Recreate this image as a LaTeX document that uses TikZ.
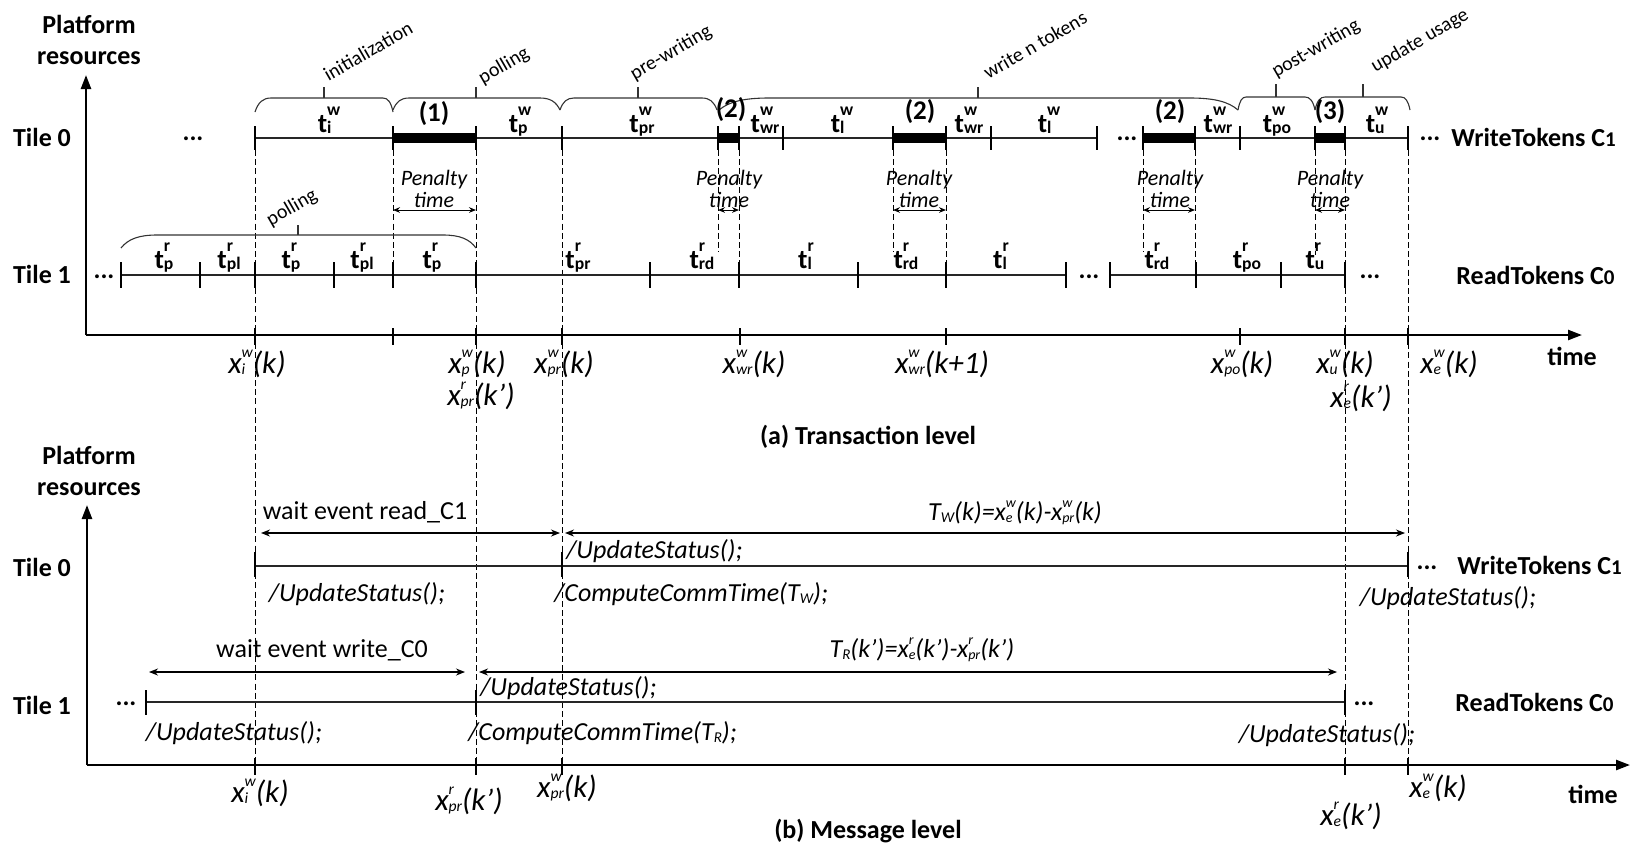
\documentclass[tikz,border=0pt]{standalone}
\usepackage{fontspec}
\setmainfont{Carlito}
\usetikzlibrary{arrows.meta}
\newsavebox\supbx
\newsavebox\subbx
\newcommand\ssc[4]{{#1\sbox\supbx{#3}\sbox\subbx{#4}%
\makebox[0pt][l]{\raisebox{#2}{\usebox\supbx}}%
\raisebox{-0.8pt}{\usebox\subbx}%
\ifdim\wd\supbx>\wd\subbx\hspace*{\dimexpr\wd\supbx-\wd\subbx\relax}\fi}}
\newcommand\tv[2]{\textbf{t}\ssc{\fontsize{8.8}{9}\selectfont\bfseries}{8.3pt}{#1}{#2}}
\newcommand\xv[3]{\textit{x}\ssc{\fontsize{7.8}{8}\selectfont\itshape}{7.8pt}{#1}{#2}\textit{(#3)}}
\newcommand\fx[3]{\textit{x}\ssc{\fontsize{7}{8}\selectfont\itshape}{6.5pt}{#1}{#2}\textit{(#3)}}
\newcommand\sdig[1]{{\fontsize{10.5}{12}\selectfont #1}}
\newcommand\mybrace[8]{%
\draw[brc] (#1,#4) .. controls ({#1+0.2*#6},{#5+0.3*(#4-#5)}) and ({#1+0.5*#6},#5) .. ({#1+#6},#5) -- ({#2-#7},#5) .. controls ({#2-0.5*#7},#5) and ({#2-0.2*#7},{#5+0.3*(#4-#5)}) .. (#2,#4);
\draw[brc] (#3,#5) -- (#3,#8);}
\begin{document}
\begin{tikzpicture}[x=0.5pt,y=-0.5pt,
  tl/.style={line width=0.75pt,black!85},
  axis/.style={line width=1.2pt,-{Triangle[length=7pt,width=5pt]}},
  tick/.style={line width=0.8pt},
  dsh/.style={line width=0.45pt,dash pattern=on 3pt off 1.6pt},
  brc/.style={line width=0.55pt,black!80},
  pen/.style={line width=0.5pt,{Stealth[length=3.5pt,width=2.8pt]}-{Stealth[length=3.5pt,width=2.8pt]}},
  darr/.style={line width=0.6pt,{Stealth[length=4.5pt,width=3.5pt]}-{Stealth[length=4.5pt,width=3.5pt]}},
  big/.style={inner sep=0pt,font=\fontsize{13}{15}\selectfont\bfseries},
  tlab/.style={anchor=base,inner sep=0pt,font=\fontsize{13.5}{15}\selectfont\bfseries},
  xlab/.style={anchor=base,inner sep=0pt,font=\fontsize{15.5}{18}\selectfont\itshape},
  blab/.style={rotate=30,inner sep=0pt,font=\fontsize{10}{12}\selectfont},
  plab/.style={anchor=base,inner sep=0pt,font=\fontsize{11}{12}\selectfont\itshape},
  itl/.style={inner sep=0pt,font=\fontsize{13}{15}\selectfont\itshape},
  upl/.style={inner sep=0pt,font=\fontsize{13}{15}\selectfont},
  dots/.style={anchor=base,inner sep=0pt,font=\fontsize{13}{15}\selectfont\bfseries}
]
\path[use as bounding box] (0,0) rectangle (1632,848);

% ---------- dashed guide lines ----------
\foreach \x in {255,476,562,1345,1408} \draw[dsh] (\x,150) -- (\x,765);
\draw[dsh] (393,150) -- (393,262);
\draw[dsh] (718,150) -- (718,252);
\draw[dsh] (739,150) -- (739,262);
\draw[dsh] (893,150) -- (893,252);
\draw[dsh] (946,150) -- (946,262);
\draw[dsh] (1143,150) -- (1143,252);
\draw[dsh] (1195,150) -- (1195,262);
\draw[dsh] (1315,150) -- (1315,255);

% ================= (a) Transaction level =================
\coordinate (oa) at (86,335);
\coordinate (ya) at (86,75);
\coordinate (xa) at (1582,335);
\draw[axis] (oa) -- (ya);
\draw[axis] (oa) -- (xa);
\node[big,align=center,font=\fontsize{13}{15.5}\selectfont\bfseries] (pra) at (89,40) {Platform\\resources};
\node[big] (t0a) at (42,137) {Tile 0};
\node[big] (t1a) at (42,274) {Tile 1};
\node[big] (tma) at (1572,356) {time};

% Tile 0 timeline
\draw[tl] (255,138) -- (1097,138);
\draw[tl] (1143,138) -- (1408,138);
\foreach \x/\w in {393/476,718/739,893/946,1143/1195,1315/1345} \fill (\x,133) rectangle (\w,143);
\foreach \x in {255,393,476,562,718,739,783,893,946,991,1097,1143,1195,1240,1315,1345,1408}
  \draw[tick] (\x,126) -- (\x,150);

% braces tile 0
\mybrace{255}{393}{324}{112}{98}{16}{10}{87}
\mybrace{393}{560}{476}{110}{98}{16}{20}{87}
\mybrace{560}{717}{638}{110}{98}{14}{15}{87}
\mybrace{719}{1238}{978}{110}{98}{50}{48}{87}
\mybrace{1238}{1315}{1276}{110}{97}{8}{10}{84}
\mybrace{1315}{1410}{1363}{110}{97}{10}{9}{84}

\node[blab] (b1) at (368,51) {initialization};
\node[blab] (b2) at (504,66) {polling};
\node[blab] (b3) at (671,53) {pre-writing};
\node[blab] (b4) at (1035,45) {write n tokens};
\node[blab] (b5) at (1316,49) {post-writing};
\node[blab] (b6) at (1420,41) {update usage};

\node[tlab] (w1) at (329,132) {\tv{w}{i}};
\node[tlab] (w2) at (520,132) {\tv{w}{p}};
\node[tlab] (w3) at (642,132) {\tv{w}{pr}};
\node[tlab] (w4) at (765,132) {\tv{w}{wr}};
\node[tlab] (w5) at (842,132) {\tv{w}{l}};
\node[tlab] (w6) at (969,132) {\tv{w}{wr}};
\node[tlab] (w7) at (1049,132) {\tv{w}{l}};
\node[tlab] (w8) at (1218,132) {\tv{w}{wr}};
\node[tlab] (w9) at (1277,132) {\tv{w}{po}};
\node[tlab] (w10) at (1377,132) {\tv{w}{u}};

\node[tlab] (p1) at (434,121) {(1)};
\node[tlab] (p2) at (731,117) {(2)};
\node[tlab] (p3) at (920,119) {(2)};
\node[tlab] (p4) at (1170,119) {(2)};
\node[tlab] (p5) at (1330,119) {(3)};

\node[dots] (d1) at (193,140) {...};
\node[dots] (d2) at (1127,140) {...};
\node[dots] (d3) at (1430,140) {...};
\node[big,anchor=west] (wta) at (1451,137) {WriteTokens C\sdig{1}};

% penalty times
\foreach \a/\b/\c in {393/476/434,718/739/729,893/946/919,1143/1195/1170,1315/1345/1330} {
  \node[plab] at (\c,185) {Penalty};
  \node[plab] at (\c,207) {time};
  \draw[pen] (\a,210) -- (\b,210);
}

% Tile 1 timeline
\draw[tl] (121,275) -- (1066,275);
\draw[tl] (1110,275) -- (1345,275);
\foreach \x in {121,200,255,334,393,476,650,739,858,946,1066,1110,1196,1281,1345}
  \draw[tick] (\x,262) -- (\x,288);
\mybrace{121}{476}{298}{248}{235}{36}{33}{225}
\node[blab] (b7) at (292,208) {polling};

\node[tlab] (r1) at (164,268) {\tv{r}{p}};
\node[tlab] (r2) at (229,268) {\tv{r}{pl}};
\node[tlab] (r3) at (291,268) {\tv{r}{p}};
\node[tlab] (r4) at (362,268) {\tv{r}{pl}};
\node[tlab] (r5) at (432,268) {\tv{r}{p}};
\node[tlab] (r6) at (578,268) {\tv{r}{pr}};
\node[tlab] (r7) at (702,268) {\tv{r}{rd}};
\node[tlab] (r8) at (806,268) {\tv{r}{l}};
\node[tlab] (r9) at (906,268) {\tv{r}{rd}};
\node[tlab] (r10) at (1001,268) {\tv{r}{l}};
\node[tlab] (r11) at (1157,268) {\tv{r}{rd}};
\node[tlab] (r12) at (1247,268) {\tv{r}{po}};
\node[tlab] (r13) at (1315,268) {\tv{r}{u}};

\node[dots] (d4) at (104,278) {...};
\node[dots] (d5) at (1089,278) {...};
\node[dots] (d6) at (1370,278) {...};
\node[big,anchor=west] (rta) at (1456,275) {ReadTokens C\sdig{0}};

% x-axis ticks and labels (a)
\foreach \x in {255,393,476,562,740,946,1240,1345,1408} \draw[tick] (\x,328) -- (\x,345);
\node[xlab] (xa1) at (257,373) {\xv{w}{i}{k}};
\node[xlab] (xa2) at (477,373) {\xv{w}{p}{k}};
\node[xlab] (xa3) at (481,405) {\xv{r}{pr}{k'}};
\node[xlab] (xa4) at (564,373) {\xv{w}{pr}{k}};
\node[xlab] (xa5) at (754,373) {\xv{w}{wr}{k}};
\node[xlab] (xa6) at (942,373) {\xv{w}{wr}{k+1}};
\node[xlab] (xa7) at (1242,373) {\xv{w}{po}{k}};
\node[xlab] (xa8) at (1345,373) {\xv{w}{u}{k}};
\node[xlab] (xa9) at (1361,407) {\xv{r}{e}{k'}};
\node[xlab] (xa10) at (1449,373) {\xv{w}{e}{k}};

\node[big] (capa) at (868,437) {(a) Transaction level};

% ================= (b) Message level =================
\coordinate (ob) at (87,765);
\coordinate (yb) at (87,505);
\coordinate (xb) at (1630,765);
\draw[axis] (ob) -- (yb);
\draw[axis] (ob) -- (xb);
\node[big,align=center,font=\fontsize{13}{15.5}\selectfont\bfseries] (prb) at (89,471) {Platform\\resources};
\node[big] (t0b) at (42,567) {Tile 0};
\node[big] (t1b) at (42,705) {Tile 1};
\node[big] (tmb) at (1593,794) {time};

% Tile 0 (b)
\draw[tl] (255,566) -- (1408,566);
\foreach \x in {255,562,1408} \draw[tick] (\x,552) -- (\x,577);
\coordinate (ar1) at (261,533); \coordinate (ar2) at (560,533);
\coordinate (ar3) at (565,533); \coordinate (ar4) at (1405,533);
\draw[darr] (ar1) -- (ar2);
\draw[darr] (ar3) -- (ar4);
\node[upl] (wr) at (365,512) {wait event read\_C1};
\node[itl] (tw) at (1015,513) {\textit{T}\ssc{\fontsize{7.5}{8}\selectfont\itshape}{6pt}{}{W}\textit{(k)=}\fx{w}{e}{k}\textit{-}\fx{w}{pr}{k}};
\node[itl,anchor=west] (u1) at (566,551) {/UpdateStatus();};
\node[itl] (u2) at (357,594) {/UpdateStatus();};
\node[itl,anchor=west] (c1) at (554,594) {/ComputeCommTime(\textit{T}\ssc{\fontsize{7.5}{8}\selectfont\itshape}{6pt}{}{W});};
\node[itl] (u3) at (1448,598) {/UpdateStatus();};
\node[dots] (d7) at (1427,569) {...};
\node[big,anchor=west] (wtb) at (1457,565) {WriteTokens C\sdig{1}};

% Tile 1 (b)
\draw[tl] (146,702) -- (1345,702);
\foreach \x in {146,476,1345} \draw[tick] (\x,690) -- (\x,715);
\coordinate (ar5) at (149,672); \coordinate (ar6) at (465,672);
\coordinate (ar7) at (479,672); \coordinate (ar8) at (1337,672);
\draw[darr] (ar5) -- (ar6);
\draw[darr] (ar7) -- (ar8);
\node[upl] (ww) at (322,650) {wait event write\_C0};
\node[itl] (trf) at (922,650) {\textit{T}\ssc{\fontsize{7.5}{8}\selectfont\itshape}{6pt}{}{R}\textit{(k')=}\fx{r}{e}{k'}\textit{-}\fx{r}{pr}{k'}};
\node[itl,anchor=west] (u4) at (480,688) {/UpdateStatus();};
\node[itl] (u5) at (234,733) {/UpdateStatus();};
\node[itl,anchor=west] (c2) at (468,733) {/ComputeCommTime(\textit{T}\ssc{\fontsize{7.5}{8}\selectfont\itshape}{6pt}{}{R});};
\node[itl] (u6) at (1327,735) {/UpdateStatus();};
\node[dots] (d8) at (126,705) {...};
\node[dots] (d9) at (1364,705) {...};
\node[big,anchor=west] (rtb) at (1455,702) {ReadTokens C\sdig{0}};

% x-axis ticks and labels (b)
\foreach \x in {255,476,562,1345,1408} \draw[tick] (\x,758) -- (\x,775);
\node[xlab] (xb1) at (260,802) {\xv{w}{i}{k}};
\node[xlab] (xb2) at (469,810) {\xv{r}{pr}{k'}};
\node[xlab] (xb3) at (567,797) {\xv{w}{pr}{k}};
\node[xlab] (xb4) at (1351,825) {\xv{r}{e}{k'}};
\node[xlab] (xb5) at (1438,797) {\xv{w}{e}{k}};

\node[big] (capb) at (868,831) {(b) Message level};
\end{tikzpicture}
\end{document}
